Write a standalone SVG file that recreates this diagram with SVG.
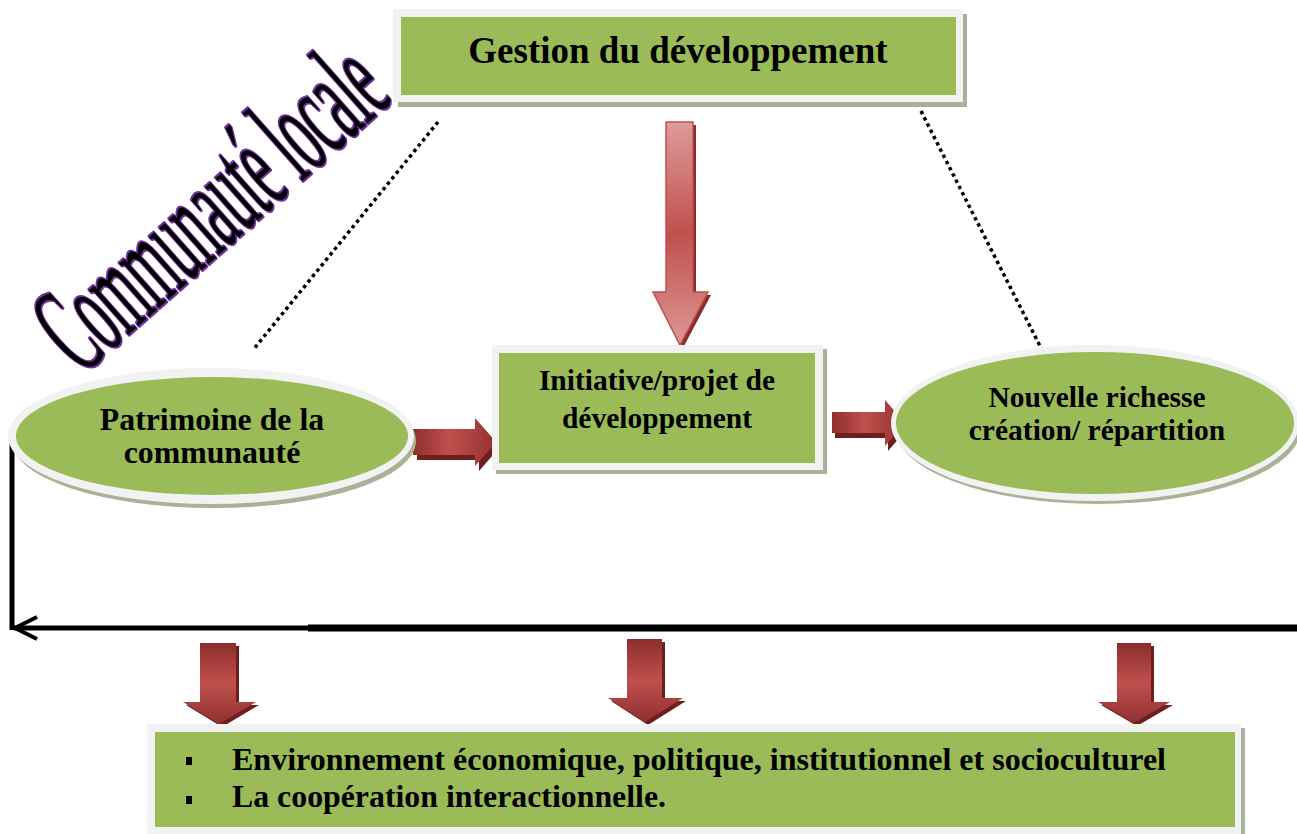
<svg xmlns="http://www.w3.org/2000/svg" width="1297" height="834" viewBox="0 0 1297 834">
<style>
.lbl{font-family:"Liberation Serif","Times New Roman",serif;font-weight:bold;fill:#000;text-anchor:middle}
.frame{fill:#f2f2f2}
.shadow{fill:#a9b197}
.green{fill:#9bbb59}
.dot{stroke:#000;stroke-width:3.5;stroke-dasharray:3.5 3.5;fill:none}
.ext{fill:#6c1f1d}
.ha{fill:url(#gH)}
.va{fill:url(#gV)}
</style>
<defs>
<linearGradient id="gH" x1="0" y1="0" x2="1" y2="0">
<stop offset="0" stop-color="#8f2f2d"/><stop offset="0.45" stop-color="#c0504d"/><stop offset="1" stop-color="#93312f"/>
</linearGradient>
<linearGradient id="gV" x1="0" y1="0" x2="0" y2="1">
<stop offset="0" stop-color="#8c2e2c"/><stop offset="0.5" stop-color="#c0504d"/><stop offset="1" stop-color="#8f302e"/>
</linearGradient>
<linearGradient id="gBig" x1="0" y1="0" x2="0" y2="1">
<stop offset="0" stop-color="#dd9b99"/><stop offset="0.5" stop-color="#c0504d"/><stop offset="1" stop-color="#dc9896"/>
</linearGradient>
</defs>

<g id="wordart">
<text transform="translate(82,376) rotate(-41.5) scale(0.4,1)" x="0" y="0" font-family="Liberation Serif, Times New Roman, serif" font-size="130" fill="#000" stroke="#7030a0" stroke-width="4.5" stroke-linejoin="round" paint-order="stroke">Communauté locale</text>
</g>

<g id="connectors">
<line class="dot" x1="438" y1="122" x2="253" y2="350"/>
<line class="dot" x1="921" y1="111" x2="1042" y2="350"/>
<polygon fill="#8b2c2c" points="669,125 696,125 696,295 711,295 683,348 656,295 669,295"/>
<polygon fill="url(#gBig)" stroke="#c0504d" stroke-width="1.5" points="666,122 693,122 693,292 708,292 680,345 653,292 666,292"/>
<polygon class="ext" points="417,435 479,435 479,423 500,447 479,471 479,460 417,460"/>
<polygon class="ha" points="413,429 475,429 475,418 496,442 475,466 475,455 413,455"/>
<polygon class="ext" points="835,417 888,417 888,405 908,428 888,451 888,438 835,438"/>
<polygon class="ha" points="832,412 885,412 885,400 905,423 885,446 885,433 832,433"/>
<line x1="12" y1="437" x2="12" y2="630" stroke="#000" stroke-width="5"/>
<line x1="14" y1="628" x2="310" y2="628" stroke="#000" stroke-width="5"/>
<line x1="308" y1="628" x2="1297" y2="628" stroke="#000" stroke-width="7"/>
<polyline points="37,617 15,628 37,639" fill="none" stroke="#000" stroke-width="4"/>
<polygon class="ext" points="203,646 239,646 239,705 259,705 222,727 186,705 203,705"/>
<polygon class="va" points="200,643 236,643 236,702 256,702 219,724 183,702 200,702"/>
<polygon class="ext" points="630,642 665,642 665,701 686,701 648,725 611,701 630,701"/>
<polygon class="va" points="627,639 662,639 662,698 683,698 645,722 608,698 627,698"/>
<polygon class="ext" points="1120,646 1154,646 1154,705 1173,705 1137,726 1101,705 1120,705"/>
<polygon class="va" points="1117,643 1151,643 1151,702 1170,702 1134,723 1098,702 1117,702"/>
</g>

<g id="gestion">
<rect class="shadow" x="398" y="14" width="569" height="93"/>
<rect class="frame" x="393" y="9" width="570" height="93"/>
<rect class="green" x="401" y="17" width="555" height="78"/>
<text class="lbl" x="678" y="63" font-size="37">Gestion du développement</text>
</g>

<g id="initiative">
<rect class="shadow" x="496" y="349" width="331" height="125"/>
<rect class="frame" x="492" y="345" width="331" height="125"/>
<rect class="green" x="499" y="353" width="316" height="110"/>
<text class="lbl" x="657" y="390" font-size="29.5">Initiative/projet de</text>
<text class="lbl" x="657" y="428" font-size="29.5">développement</text>
</g>

<g id="patrimoine">
<ellipse class="shadow" cx="214" cy="441" rx="202" ry="67"/>
<ellipse class="frame" cx="211" cy="436" rx="203" ry="68"/>
<ellipse class="green" cx="212" cy="436" rx="196" ry="59"/>
<text class="lbl" x="212" y="430" font-size="31.8">Patrimoine de la</text>
<text class="lbl" x="212" y="463" font-size="31.8">communauté</text>
</g>

<g id="richesse">
<ellipse class="shadow" cx="1098" cy="428" rx="203" ry="76"/>
<ellipse class="frame" cx="1095" cy="423" rx="204" ry="78"/>
<ellipse class="green" cx="1095" cy="423" rx="199" ry="71"/>
<text class="lbl" x="1097" y="407" font-size="29.5">Nouvelle richesse</text>
<text class="lbl" x="1097" y="440" font-size="29.5">création/ répartition</text>
</g>

<g id="environnement">
<rect class="shadow" x="151" y="728" width="1094" height="110"/>
<rect class="frame" x="147" y="724" width="1094" height="112"/>
<rect class="green" x="155" y="732" width="1080" height="95"/>
<rect x="186" y="757" width="6" height="8" fill="#000"/>
<rect x="186" y="796" width="6" height="8" fill="#000"/>
<text class="lbl" x="232" y="770" font-size="32" style="text-anchor:start" textLength="934" lengthAdjust="spacingAndGlyphs">Environnement économique, politique, institutionnel et socioculturel</text>
<text class="lbl" x="232" y="807" font-size="32" style="text-anchor:start" textLength="434" lengthAdjust="spacingAndGlyphs">La coopération interactionnelle.</text>
</g>
</svg>
